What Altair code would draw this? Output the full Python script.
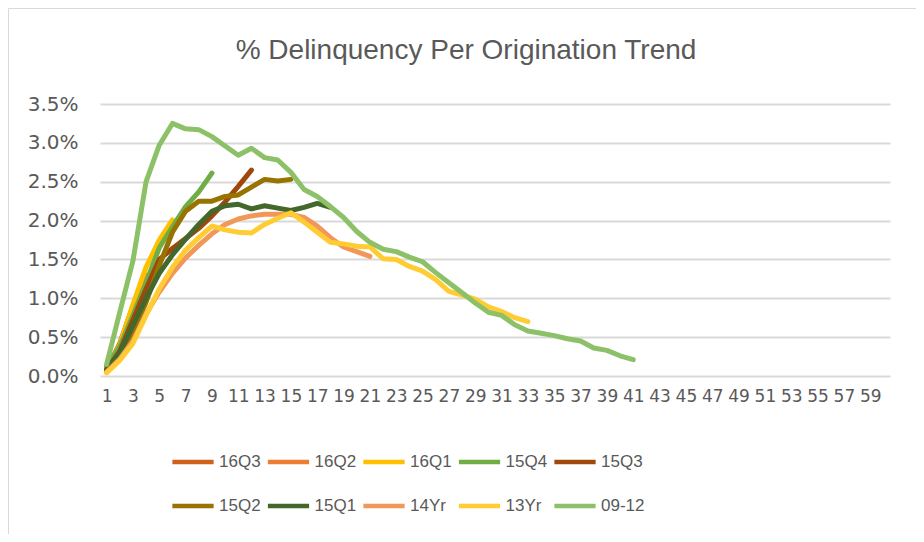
import altair as alt
import pandas as pd

# ---- data (percent values) ----
series_names = ["16Q3", "16Q2", "16Q1", "15Q4", "15Q3", "15Q2", "15Q1", "14Yr", "13Yr", "09-12"]
series_colors = ["#D0611A", "#ED7D31", "#FFC000", "#70AD47", "#9E480E",
                 "#997300", "#43682B", "#F1975A", "#FFCD33", "#8CC168"]
months = list(range(1, 61))
odd_month_labels = list(range(1, 60, 2))
y_ticks = [0.0, 0.005, 0.01, 0.015, 0.02, 0.025, 0.03, 0.035]
title_text = "% Delinquency Per Origination Trend"

s16Q3 = [0.08, 0.42, 0.90]
s16Q2 = [0.07, 0.38, 0.85, 1.30]
s16Q1 = [0.10, 0.40, 0.92, 1.40, 1.75, 2.01]
s15Q4 = [0.12, 0.38, 0.78, 1.20, 1.65, 1.92, 2.18, 2.37, 2.61]
s15Q3 = [0.08, 0.32, 0.72, 1.12, 1.50, 1.64, 1.77, 1.90, 2.06, 2.24, 2.44, 2.65]
s15Q2 = [0.05, 0.26, 0.57, 0.95, 1.42, 1.85, 2.12, 2.25, 2.25, 2.31, 2.33, 2.43, 2.53, 2.51, 2.53]
s15Q1 = [0.08, 0.30, 0.65, 1.00, 1.32, 1.56, 1.76, 1.95, 2.12, 2.19, 2.21, 2.15, 2.19, 2.16, 2.13,
         2.17, 2.22, 2.17]
s14Yr = [0.05, 0.22, 0.45, 0.80, 1.08, 1.32, 1.52, 1.68, 1.83, 1.95, 2.02, 2.06, 2.08, 2.08, 2.08,
         2.04, 1.93, 1.78, 1.66, 1.60, 1.54]
s13Yr = [0.04, 0.20, 0.42, 0.78, 1.12, 1.40, 1.62, 1.78, 1.93, 1.88, 1.85, 1.84, 1.95, 2.03, 2.10,
         1.98, 1.85, 1.72, 1.70, 1.67, 1.66, 1.51, 1.50, 1.41, 1.35, 1.24, 1.09, 1.04, 0.99, 0.89,
         0.83, 0.75, 0.70]
s0912 = [0.15, 0.82, 1.48, 2.50, 2.97, 3.25, 3.18, 3.17, 3.08, 2.96, 2.84, 2.93, 2.81, 2.78, 2.62,
         2.40, 2.31, 2.18, 2.04, 1.86, 1.72, 1.63, 1.60, 1.53, 1.47, 1.33, 1.20, 1.07, 0.94, 0.82,
         0.78, 0.66, 0.58, 0.55, 0.52, 0.48, 0.45, 0.36, 0.33, 0.26, 0.21]

series_values = [s16Q3, s16Q2, s16Q1, s15Q4, s15Q3, s15Q2, s15Q1, s14Yr, s13Yr, s0912]

rows = []
for name, vals in zip(series_names, series_values):
    for i, v in enumerate(vals):
        rows.append({"series": name, "month": i + 1, "value": v / 100.0})
df = pd.DataFrame(rows)

TEXT = "#595959"
GRID = "#D9D9D9"

color = alt.Color(
    "series:N",
    scale=alt.Scale(domain=series_names, range=series_colors),
    sort=series_names,
    legend=alt.Legend(
        title=None, orient="none", legendX=70, legendY=335,
        columns=5, direction="horizontal", gridAlign="all",
        symbolType="stroke", symbolSize=1700, symbolStrokeWidth=4.5,
        labelFont="Liberation Sans", labelFontSize=17, labelColor=TEXT,
        labelOffset=3, columnPadding=-4.5, rowPadding=12,
    ),
)

x = alt.X(
    "month:O",
    scale=alt.Scale(domain=months, paddingInner=0, paddingOuter=0),
    axis=alt.Axis(title=None, values=odd_month_labels, labelAngle=0, ticks=False, domain=False,
                  grid=False, labelFont="DejaVu Sans", labelFontSize=17, labelColor=TEXT,
                  labelPadding=12),
)
y = alt.Y(
    "value:Q",
    scale=alt.Scale(domain=[0, 0.035], nice=False),
    axis=alt.Axis(title=None, values=y_ticks, format=".1%", ticks=False, domain=False,
                  gridColor=GRID, gridWidth=2, labelFont="DejaVu Sans", labelFontSize=20,
                  labelColor=TEXT, labelPadding=22),
)

layers = []
for name in series_names:
    layers.append(
        alt.Chart(df)
        .transform_filter(alt.datum.series == name)
        .mark_line(strokeWidth=5, strokeCap="round", strokeJoin="round")
        .encode(x=x, y=y, color=color)
    )

frame = alt.Chart(pd.DataFrame({"a": [0]})).mark_rect(
    fill=None, stroke=GRID, strokeWidth=1
).encode(
    x=alt.value(-91.5), y=alt.value(-95.5), x2=alt.value(1200), y2=alt.value(1200)
)

title = alt.Chart(pd.DataFrame({"t": [title_text]})).mark_text(
    font="Liberation Sans", fontSize=28, color=TEXT, align="center", baseline="alphabetic"
).encode(text="t:N", x=alt.value(366), y=alt.value(-45))

chart = alt.layer(frame, *layers, title).properties(
    width=790,
    height=272,
    padding={"left": 92, "top": 96, "right": 26, "bottom": 158},
    autosize=alt.AutoSizeParams(type="none"),
).configure_view(stroke=None)

chart.save("out.html", embed_options={"renderer": "svg", "actions": False})
